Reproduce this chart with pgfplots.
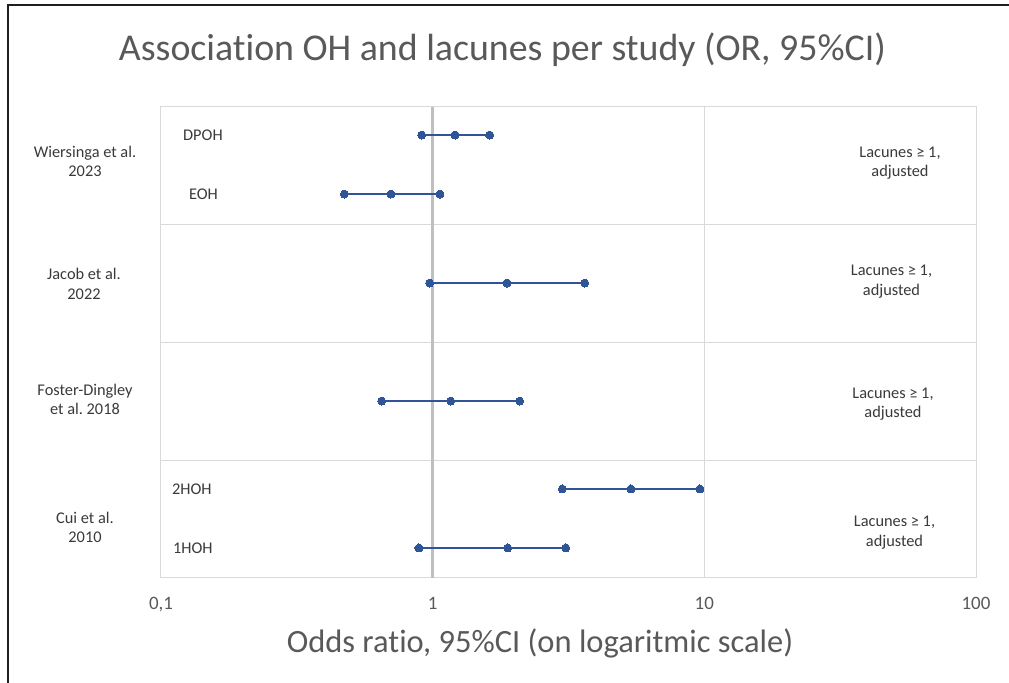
\documentclass[border=0pt]{standalone}
\usepackage{pgfplots}
\pgfplotsset{compat=1.18}
\usepackage{fontspec}
\setmainfont{Carlito}[Ligatures={NoCommon}]
\frenchspacing
\definecolor{fblue}{HTML}{2F5597}
\definecolor{tgray}{HTML}{595959}
\definecolor{lgray}{HTML}{3A3A3A}
\definecolor{gridc}{HTML}{D9D9D9}
\definecolor{refl}{HTML}{BFBFBF}
\newcommand\lab{\fontsize{16.4}{19.5}\selectfont}
\begin{document}
\begin{tikzpicture}
\useasboundingbox (0,0) rectangle (1009bp,683bp);
\fill[white] (0,0) rectangle (1009bp,683bp);
\draw[line width=2.5bp, black!88] (7.8bp,0) -- (7.8bp,678bp) -- (1009bp,678bp);
\begin{axis}[
 at={(161bp,105bp)}, anchor=south west,
 scale only axis, width=815bp, height=471bp,
 xmode=log, xmin=0.1, xmax=100, ymin=0, ymax=4,
 xtick={0.1,1,10,100}, xticklabels={{0,1},1,10,100},
 ytick={1,2,3}, yticklabels={},
 xmajorgrids, ymajorgrids, xminorgrids=false, xminorticks=false,
 grid style={gridc, line width=1bp},
 axis line style={gridc, line width=1bp},
 major tick length=0pt, minor tick length=0pt,
 xticklabel style={font=\fontsize{19}{19}\selectfont, text=tgray, yshift=-16bp},
 clip=false,
 fp/.style={fblue, line width=2.7bp, mark=*, mark size=4bp, mark options={fill=fblue, draw=fblue, line width=0pt}},
]
\draw[refl, line width=2.5bp] (axis cs:1,0) -- (axis cs:1,4);
% Wiersinga 2023
\addplot[fp] coordinates {(0.911,3.762) (1.21,3.762) (1.62,3.762)};
\addplot[fp] coordinates {(0.473,3.261) (0.702,3.261) (1.064,3.261)};
% Jacob 2022
\addplot[fp] coordinates {(0.975,2.505) (1.877,2.505) (3.63,2.505)};
% Foster-Dingley 2018
\addplot[fp] coordinates {(0.649,1.503) (1.165,1.503) (2.09,1.503)};
% Cui 2010
\addplot[fp] coordinates {(3.0,0.756) (5.37,0.756) (9.63,0.756)};
\addplot[fp] coordinates {(0.89,0.255) (1.89,0.255) (3.09,0.255)};

% study labels
\node[align=center, font=\lab, text=lgray, xshift=-76bp] at (axis cs:0.1,3.537) {Wiersinga et al.\\2023};
\node[align=center, font=\lab, text=lgray, xshift=-77bp] at (axis cs:0.1,2.497) {Jacob et al.\\2022};
\node[align=center, font=\lab, text=lgray, xshift=-76bp] at (axis cs:0.1,1.516) {Foster-Dingley\\et al. 2018};
\node[align=center, font=\lab, text=lgray, xshift=-76bp] at (axis cs:0.1,0.429) {Cui et al.\\2010};
% subgroup labels
\node[anchor=west, inner sep=0pt, font=\lab, text=lgray, xshift=22bp] at (axis cs:0.1,3.762) {DPOH};
\node[anchor=west, inner sep=0pt, font=\lab, text=lgray, xshift=28bp] at (axis cs:0.1,3.261) {EOH};
\node[anchor=west, inner sep=0pt, font=\lab, text=lgray, xshift=11bp] at (axis cs:0.1,0.756) {2HOH};
\node[anchor=west, inner sep=0pt, font=\lab, text=lgray, xshift=12bp] at (axis cs:0.1,0.255) {1HOH};
% right annotations
\node[align=center, font=\lab, text=lgray, xshift=739bp] at (axis cs:0.1,3.524) {Lacunes ≥ 1,\\adjusted};
\node[align=center, font=\lab, text=lgray, xshift=730.5bp] at (axis cs:0.1,2.518) {Lacunes ≥ 1,\\adjusted};
\node[align=center, font=\lab, text=lgray, xshift=732bp] at (axis cs:0.1,1.478) {Lacunes ≥ 1,\\adjusted};
\node[align=center, font=\lab, text=lgray, xshift=733.5bp] at (axis cs:0.1,0.386) {Lacunes ≥ 1,\\adjusted};
% title and x label
\node[anchor=base, font=\fontsize{38}{38}\selectfont, text=tgray, xshift=341.5bp, yshift=46bp] at (axis cs:0.1,4) {Association OH and lacunes per study (OR, 95\%CI)};
\node[anchor=base, font=\fontsize{32.6}{32.6}\selectfont, text=tgray, xshift=379bp, yshift=-74bp] at (axis cs:0.1,0) {Odds ratio, 95\%CI (on logaritmic scale)};
\end{axis}
\end{tikzpicture}
\end{document}
